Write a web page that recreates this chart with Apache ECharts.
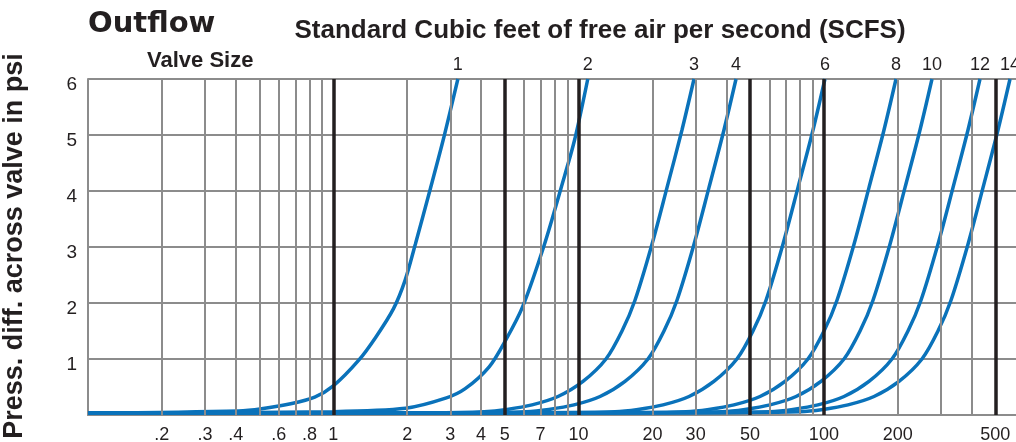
<!DOCTYPE html>
<html>
<head>
    <meta charset="UTF-8">
    <title>Outflow</title>
    <script src="https://cdn.jsdelivr.net/npm/echarts@6/dist/echarts.min.js"></script>
    <style>
        html, body { margin: 0; padding: 0; background: #fff; }
        #chart { width: 1016px; height: 442px; }
    </style>
</head>
<body>
    <div id="chart"></div>
    <script>
        // flow in SCFS vs pressure diff in psi, one curve per valve size
        var valveSizes = ['1', '2', '3', '4', '6', '8', '10', '12', '14'];

        var curve1 = [[0.1, 0.03], [0.41, 0.07], [0.51, 0.11], [0.67, 0.2], [0.84, 0.32], [1.0, 0.52], [1.27, 0.98], [1.49, 1.39], [1.76, 1.9], [1.96, 2.4], [2.16, 3.05], [2.49, 4.05], [2.82, 4.95], [3.22, 6]];
        var curve2 = [[0.1, 0.03], [1.0, 0.06], [1.97, 0.12], [2.87, 0.3], [3.45, 0.47], [4.32, 0.86], [5.05, 1.34], [5.91, 1.93], [7.26, 3.05], [8.49, 4.06], [9.63, 4.91], [10.9, 6]];
        var curve3 = [[0.1, 0.03], [2.5, 0.04], [4.12, 0.06], [5.11, 0.1], [6.46, 0.18], [8.24, 0.33], [10.42, 0.6], [12.93, 1.0], [15.03, 1.5], [16.98, 2.05], [19.92, 3.05], [22.93, 4.06], [26.39, 5.09], [29.55, 6]];
        var curve4 = [[0.1, 0.03], [3, 0.04], [6.1, 0.06], [7.57, 0.1], [9.58, 0.18], [12.23, 0.33], [15.46, 0.6], [19.18, 1.0], [22.29, 1.5], [25.19, 2.05], [29.55, 3.05], [34.0, 4.06], [39.14, 5.09], [43.83, 6]];
        var curve6 = [[0.1, 0.03], [5, 0.04], [14.07, 0.06], [17.47, 0.1], [22.1, 0.18], [28.2, 0.33], [35.6, 0.6], [44.2, 1.0], [51.4, 1.5], [58.1, 2.05], [68.1, 3.05], [78.4, 4.06], [90.3, 5.09], [101, 6]];
        var curve8 = [[0.1, 0.03], [10, 0.04], [27.4, 0.06], [34.0, 0.1], [43.0, 0.18], [54.9, 0.33], [69.4, 0.6], [86.1, 1.0], [100.1, 1.5], [113.1, 2.05], [132.7, 3.05], [152.7, 4.06], [175.8, 5.09], [196.8, 6]];
        var curve10 = [[0.1, 0.03], [15, 0.04], [38.4, 0.06], [47.7, 0.1], [60.3, 0.18], [77.0, 0.33], [97.3, 0.6], [120.8, 1.0], [140.4, 1.5], [158.6, 2.05], [186.0, 3.05], [214.1, 4.06], [246.5, 5.09], [275.9, 6]];
        var curve12 = [[0.1, 0.03], [20, 0.04], [60.3, 0.06], [74.8, 0.1], [94.6, 0.18], [120.8, 0.33], [152.7, 0.6], [189.5, 1.0], [220.2, 1.5], [248.8, 2.05], [291.8, 3.05], [336.0, 4.06], [386.8, 5.09], [432.9, 6]];
        var curve14 = [[0.1, 0.03], [25, 0.04], [79.9, 0.06], [99.2, 0.1], [125.4, 0.18], [160.1, 0.33], [202.4, 0.6], [251.1, 1.0], [291.8, 1.5], [329.8, 2.05], [386.8, 3.05], [445.3, 4.06], [512.6, 5.09], [573.8, 6]];
        var curves = [curve1, curve2, curve3, curve4, curve6, curve8, curve10, curve12, curve14];

        // vertical grid lines and bottom tick labels
        var thinLines = [0.2, 0.3, 0.4, 0.5, 0.6, 0.7, 0.8, 0.9, 2, 3, 4, 6, 7, 8, 9, 20, 30, 40, 60, 70, 80, 90, 200, 300, 400];
        var boldLines = [1, 5, 10, 50, 100, 500];
        var xTickValues = [0.2, 0.3, 0.4, 0.6, 0.8, 1, 2, 3, 4, 5, 7, 10, 20, 30, 50, 100, 200, 500];
        var xTickTexts = ['.2', '.3', '.4', '.6', '.8', '1', '2', '3', '4', '5', '7', '10', '20', '30', '50', '100', '200', '500'];

        var ink = '#231f20';
        var gray = '#8c8c8c';
        var blue = '#0a72ba';
        var font = 'Liberation Sans';

        var chart = echarts.init(document.getElementById('chart'), null, {renderer: 'canvas'});

        function gridItem(v, bold) {
            var k = xTickValues.indexOf(v);
            return {
                xAxis: v,
                lineStyle: bold ? {color: ink, width: 3.5, type: 'solid'} : {color: gray, width: 2, type: 'solid'},
                label: k < 0 ? {show: false} : {
                    show: true, position: 'start', distance: 11,
                    formatter: xTickTexts[k], color: ink, fontSize: 18, fontFamily: font
                }
            };
        }
        var gridMarks = [];
        thinLines.forEach(function (v) { gridMarks.push(gridItem(v, false)); });
        boldLines.forEach(function (v) { gridMarks.push(gridItem(v, true)); });

        var series = [{
            type: 'line',
            data: [],
            z: 1,
            silent: true,
            markLine: {
                silent: true,
                symbol: ['none', 'none'],
                animation: false,
                data: gridMarks
            }
        }];

        curves.forEach(function (c, i) {
            series.push({
                name: valveSizes[i],
                type: 'line',
                data: c,
                z: 3,
                smooth: 0.3,
                showSymbol: false,
                lineStyle: {color: blue, width: 3.5},
                markPoint: {
                    symbol: 'rect',
                    symbolSize: 1,
                    itemStyle: {color: 'rgba(0,0,0,0)'},
                    label: {
                        show: true, position: 'top', distance: 4,
                        formatter: valveSizes[i], color: ink, fontSize: 18, fontFamily: font
                    },
                    data: [{coord: c[c.length - 1]}]
                }
            });
        });

        chart.setOption({
            animation: false,
            grid: {left: 88, right: 0, top: 79, bottom: 27},
            xAxis: {
                type: 'log',
                logBase: 10,
                min: 0.1,
                max: 607,
                axisLine: {show: true, lineStyle: {color: gray, width: 2}},
                axisTick: {show: false},
                axisLabel: {show: false},
                splitLine: {show: false},
                minorSplitLine: {show: false}
            },
            yAxis: {
                type: 'value',
                min: 0,
                max: 6,
                interval: 1,
                axisLine: {show: true, lineStyle: {color: gray, width: 2}},
                axisTick: {show: false},
                axisLabel: {
                    margin: 11, color: ink, fontSize: 19, fontFamily: font,
                    verticalAlign: 'top', lineHeight: 11,
                    formatter: function (v) { return v === 0 ? '' : v; }
                },
                splitLine: {show: true, lineStyle: {color: gray, width: 2}}
            },
            graphic: [
                {type: 'text', left: 88, top: 10, style: {text: 'Outflow', fill: ink, font: 'bold 29px "DejaVu Sans"'}},
                {type: 'text', x: 600, y: 31, style: {text: 'Standard Cubic feet of free air per second (SCFS)', fill: ink, font: 'bold 26px "Liberation Sans"', textAlign: 'center', textVerticalAlign: 'middle'}},
                {type: 'text', x: 147, y: 61, style: {text: 'Valve Size', fill: ink, font: 'bold 22px "Liberation Sans"', textAlign: 'left', textVerticalAlign: 'middle'}},
                {type: 'text', x: 15, y: 246, rotation: Math.PI / 2, style: {text: 'Press. diff. across valve in psi', fill: ink, font: 'bold 27px "Liberation Sans"', textAlign: 'center', textVerticalAlign: 'middle'}}
            ],
            series: series
        });
    </script>
</body>
</html>
